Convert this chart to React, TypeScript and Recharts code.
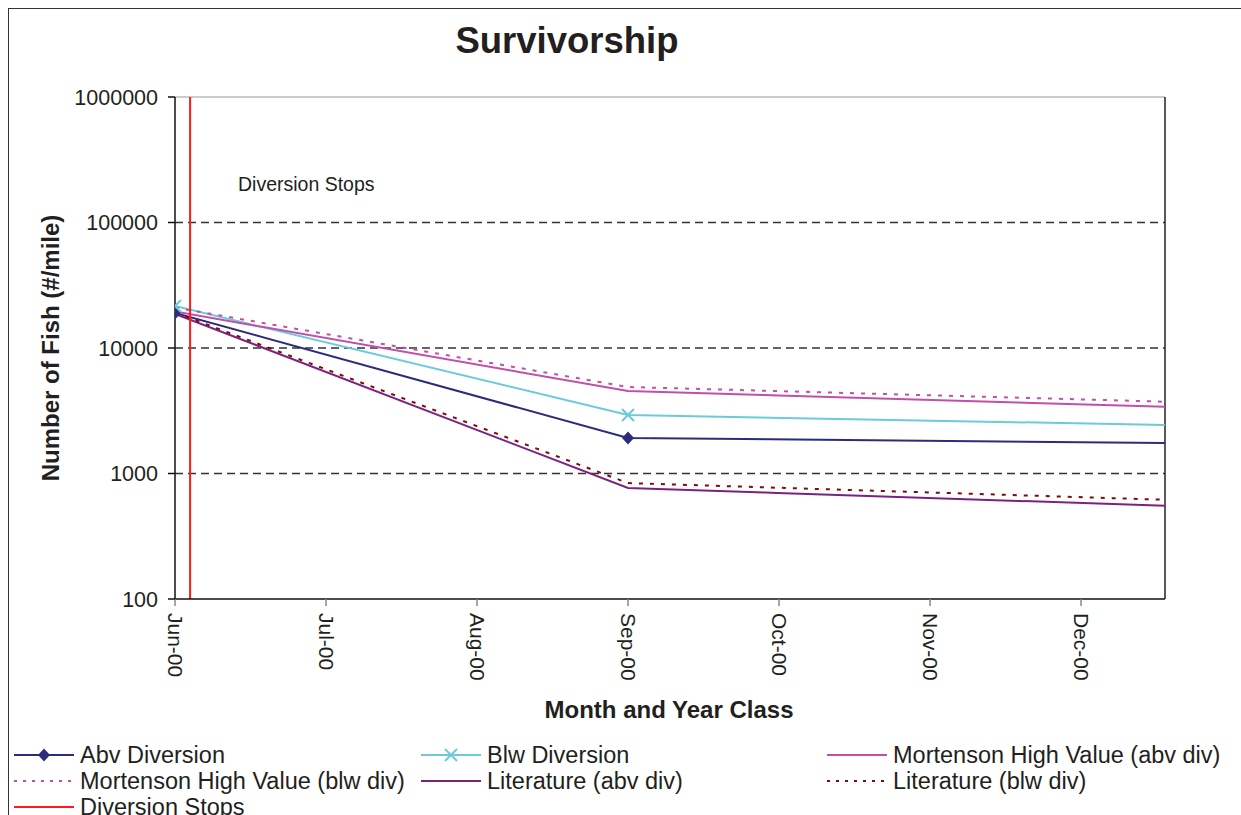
import { Line, LineChart, ReferenceLine, XAxis, YAxis } from 'recharts';

const monthLabels = ['Jun-00', 'Jul-00', 'Aug-00', 'Sep-00', 'Oct-00', 'Nov-00', 'Dec-00'];
const monthTicks = [0, 1, 2, 3, 4, 5, 6];
const sampleMonths = [0, 3, 6.6];
const abvDiversion = [19000, 1920, 1750];
const blwDiversion = [21600, 2925, 2430];
const mortensonAbv = [19500, 4540, 3390];
const mortensonBlw = [21000, 4890, 3720];
const literatureAbv = [18700, 766, 551];
const literatureBlw = [19200, 839, 615];
const yTicks = [100, 1000, 10000, 100000, 1000000];
const gridValues = [1000, 10000, 100000];
const diversionStop = 0.1;
const xMax = 6.556;

const FONT = '"Liberation Sans", Arial, sans-serif';
const TEXT = '#231f20';

const rows = sampleMonths.map((m, i) => ({
  m,
  abv: abvDiversion[i],
  blw: blwDiversion[i],
  mortAbv: mortensonAbv[i],
  mortBlw: mortensonBlw[i],
  litAbv: literatureAbv[i],
  litBlw: literatureBlw[i],
}));

const series = [
  { key: 'abv', name: 'Abv Diversion', color: '#2b2d7c', dash: undefined, marker: 'diamond' },
  { key: 'blw', name: 'Blw Diversion', color: '#6ccadb', dash: undefined, marker: 'cross' },
  { key: 'mortAbv', name: 'Mortenson High Value (abv div)', color: '#c050a8', dash: undefined, marker: null },
  { key: 'mortBlw', name: 'Mortenson High Value (blw div)', color: '#c050a8', dash: '4 7', marker: null },
  { key: 'litAbv', name: 'Literature (abv div)', color: '#7b2280', dash: undefined, marker: null },
  { key: 'litBlw', name: 'Literature (blw div)', color: '#7f0a0a', dash: '4 7', marker: null },
  { key: 'stop', name: 'Diversion Stops', color: '#ff1a1a', dash: undefined, marker: null },
];

function Diamond({ cx, cy, fill }: any) {
  if (cx == null || cy == null) return null;
  return <path d={`M${cx},${cy - 6.5} L${cx + 6},${cy} L${cx},${cy + 6.5} L${cx - 6},${cy} Z`} fill={fill} />;
}

function Cross({ cx, cy, stroke }: any) {
  if (cx == null || cy == null) return null;
  return (
    <g stroke={stroke} strokeWidth={2}>
      <line x1={cx - 6} y1={cy - 6} x2={cx + 6} y2={cy + 6} />
      <line x1={cx - 6} y1={cy + 6} x2={cx + 6} y2={cy - 6} />
    </g>
  );
}

function MonthTick({ x, y, payload }: any) {
  const ty = y + 5;
  return (
    <text x={x} y={ty} transform={`rotate(90 ${x} ${ty})`} textAnchor="start" dominantBaseline="central"
      fontSize={21} fill={TEXT} fontFamily={FONT}>
      {monthLabels[payload.value]}
    </text>
  );
}

function LegendSwatch({ s, x, y }: { s: (typeof series)[number]; x: number; y: number }) {
  const mid = x + 30;
  return (
    <g>
      <line x1={x} y1={y} x2={x + 60} y2={y} stroke={s.color} strokeWidth={2} strokeDasharray={s.dash ? '3 6' : undefined} />
      {s.marker === 'diamond' && <Diamond cx={mid} cy={y} fill={s.color} />}
      {s.marker === 'cross' && <Cross cx={mid} cy={y} stroke={s.color} />}
    </g>
  );
}

const legendCols = [6, 413, 819];
const legendRows = [747, 773, 799];

export default function App() {
  return (
    <div style={{ position: 'fixed', left: 8, top: 8, width: 1233, height: 807, overflow: 'hidden', background: '#fff', fontFamily: FONT }}>
      <div style={{ position: 'absolute', left: 0, top: 0, width: 1250, height: 830, borderLeft: '1.5px solid #333', borderTop: '1.5px solid #333' }} />
      <LineChart width={1233} height={807} data={rows} margin={{ top: 89, right: 76, left: 0, bottom: 0 }}>
        <XAxis dataKey="m" type="number" domain={[0, xMax]} ticks={monthTicks} allowDataOverflow
          height={216} tickSize={7} tick={<MonthTick />} interval={0}
          axisLine={{ stroke: '#111', strokeWidth: 1.5 }} tickLine={{ stroke: '#888', strokeWidth: 1.5 }} />
        <YAxis scale="log" domain={[100, 1000000]} ticks={yTicks} allowDataOverflow width={167}
          tickSize={7} tickMargin={10} interval={0} tickFormatter={(v: number) => String(v)}
          tick={{ fontSize: 21.5, fill: TEXT, fontFamily: FONT }}
          axisLine={{ stroke: '#111', strokeWidth: 1.5 }} tickLine={{ stroke: '#111', strokeWidth: 1.5 }} />
        {gridValues.map(v => (
          <ReferenceLine key={v} y={v} stroke="#333" strokeWidth={1.5} strokeDasharray="8 5" />
        ))}
        <ReferenceLine y={1000000} stroke="#999" strokeWidth={1.2} />
        <ReferenceLine x={xMax} stroke="#222" strokeWidth={1.5} />
        {series.filter(s => s.key !== 'stop').map(s => (
          <Line key={s.key} dataKey={s.key} name={s.name} type="linear" stroke={s.color} strokeWidth={2}
            strokeDasharray={s.dash} isAnimationActive={false}
            dot={s.marker === 'diamond'
              ? (p: any) => <Diamond key={`d${p.index}`} {...p} fill={s.color} />
              : s.marker === 'cross'
                ? (p: any) => <Cross key={`c${p.index}`} {...p} stroke={s.color} />
                : false}
            activeDot={false} />
        ))}
        <ReferenceLine x={diversionStop} stroke="#ff1a1a" strokeWidth={2}
          label={{
            content: () => (
              <text x={230} y={176} dominantBaseline="central" fontSize={19.5} fill={TEXT} fontFamily={FONT}>
                Diversion Stops
              </text>
            ),
          }} />
      </LineChart>
      <svg width={1233} height={807} style={{ position: 'absolute', left: 0, top: 0, pointerEvents: 'none' }}>
        <text x={559} y={32} textAnchor="middle" dominantBaseline="central" fontSize={36.5} fontWeight="bold" fill={TEXT} fontFamily={FONT}>
          Survivorship
        </text>
        <text x={42} y={340} transform="rotate(-90 42 340)" textAnchor="middle" dominantBaseline="central" fontSize={24}
          fontWeight="bold" fill={TEXT} fontFamily={FONT}>
          Number of Fish (#/mile)
        </text>
        <text x={661} y={701} textAnchor="middle" dominantBaseline="central" fontSize={24} fontWeight="bold" fill={TEXT} fontFamily={FONT}>
          Month and Year Class
        </text>
        {series.map((s, i) => {
          const x = legendCols[i % 3];
          const y = legendRows[Math.floor(i / 3)];
          return (
            <g key={s.key}>
              <LegendSwatch s={s} x={x} y={y} />
              <text x={x + 66} y={y} dominantBaseline="central" fontSize={23.5} fill={TEXT} fontFamily={FONT}>
                {s.name}
              </text>
            </g>
          );
        })}
      </svg>
    </div>
  );
}
